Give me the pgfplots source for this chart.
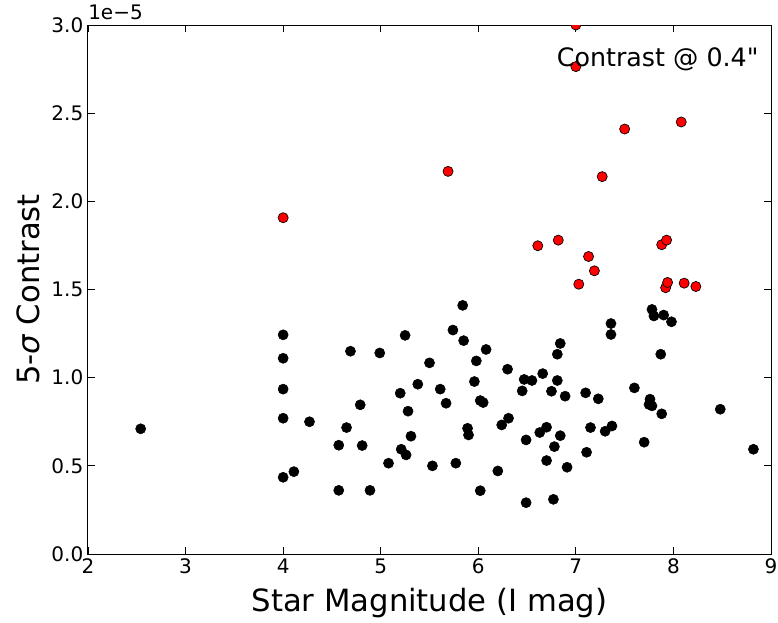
\documentclass[border=0pt]{standalone}
\usepackage{fontspec}
\setmainfont{DejaVu Sans}
\usepackage{pgfplots}
\pgfplotsset{compat=1.18}

% contrast values in units of 1e-5
\pgfplotstableread{
mag con
2.54 0.710
4.00 1.243
4.00 1.110
4.00 0.935
4.00 0.770
4.00 0.435
4.11 0.467
4.27 0.750
4.69 1.150
4.99 1.140
5.25 1.240
5.84 1.410
5.74 1.270
5.85 1.210
6.08 1.160
5.98 1.095
6.30 1.048
5.50 1.084
5.38 0.963
5.20 0.912
5.61 0.935
5.67 0.855
5.96 0.978
6.02 0.870
6.05 0.859
4.79 0.846
5.28 0.810
4.65 0.717
4.57 0.617
4.81 0.615
5.31 0.668
5.21 0.594
5.26 0.562
5.08 0.515
5.53 0.500
5.77 0.515
5.89 0.713
5.90 0.675
6.20 0.471
6.24 0.732
6.31 0.770
4.57 0.361
4.89 0.361
6.02 0.359
7.78 1.387
7.80 1.350
7.90 1.355
7.98 1.317
7.36 1.307
7.36 1.245
6.84 1.194
6.81 1.133
7.87 1.133
6.47 0.990
6.55 0.984
6.66 1.023
6.81 0.984
6.45 0.925
6.75 0.923
6.89 0.895
7.10 0.914
7.23 0.880
7.60 0.942
7.76 0.878
7.75 0.848
7.78 0.840
7.88 0.795
8.48 0.821
8.82 0.594
6.70 0.719
6.63 0.689
6.84 0.671
6.49 0.647
6.78 0.609
7.15 0.717
7.30 0.696
7.37 0.726
7.70 0.634
6.70 0.530
6.91 0.492
7.11 0.577
6.49 0.291
6.77 0.310
}\blackpts

\pgfplotstableread{
mag con
4.00 1.907
5.69 2.170
6.61 1.748
6.82 1.780
7.00 3.000
7.00 2.764
7.03 1.530
7.13 1.687
7.19 1.606
7.27 2.140
7.50 2.410
7.88 1.754
7.93 1.780
7.92 1.510
7.94 1.540
8.08 2.450
8.11 1.536
8.23 1.517
}\redpts

\newcommand{\straightquote}{\XeTeXglyph\XeTeXcharglyph"22\relax}

\begin{document}
\begin{tikzpicture}
\begin{axis}[
  name=ax,
  at={(0,0)},anchor=south west,scale only axis,
  width=512.25pt,height=396.75pt,
  xmin=2,xmax=9,ymin=0,ymax=3,
  clip marker paths=true,
  xtick={2,3,4,5,6,7,8,9},
  ytick={0,0.5,1,1.5,2,2.5,3},
  yticklabel style={/pgf/number format/.cd,fixed,fixed zerofill,precision=1},
  /pgf/number format/assume math mode=true,
  tick align=inside,major tick length=5pt,
  tick style={line width=0.6pt,black},
  axis line style={line width=0.75pt},
  ticklabel style={font=\fontsize{15}{18}\selectfont},
  label style={font=\fontsize{23}{27}\selectfont},
  xlabel={Star Magnitude (I mag)},
  ylabel={5-{\itshape σ} Contrast},
  xlabel style={at={(axis description cs:0.5,0)},anchor=base,yshift=-42.75pt},
  ylabel style={at={(axis description cs:-0.0717,0.5)},anchor=base},
]
\addplot[only marks,mark=*,mark size=3.8pt,mark options={draw=black,fill=black}] table[x=mag,y=con]{\blackpts};
\addplot[only marks,mark=*,mark size=3.8pt,mark options={draw=black,fill=red,line width=0.5pt}] table[x=mag,y=con]{\redpts};
\node[anchor=base east,font=\fontsize{19}{22}\selectfont] at (axis cs:8.92,2.767) {Contrast @ 0.4\straightquote};
\end{axis}
\node[anchor=base west,font=\fontsize{15}{18}\selectfont,inner sep=0pt] at ([yshift=4pt]ax.north west) {1e−5};
\pgfresetboundingbox
\useasboundingbox (-66pt,-51pt) rectangle (517.5pt,415.5pt);
\end{tikzpicture}
\end{document}
